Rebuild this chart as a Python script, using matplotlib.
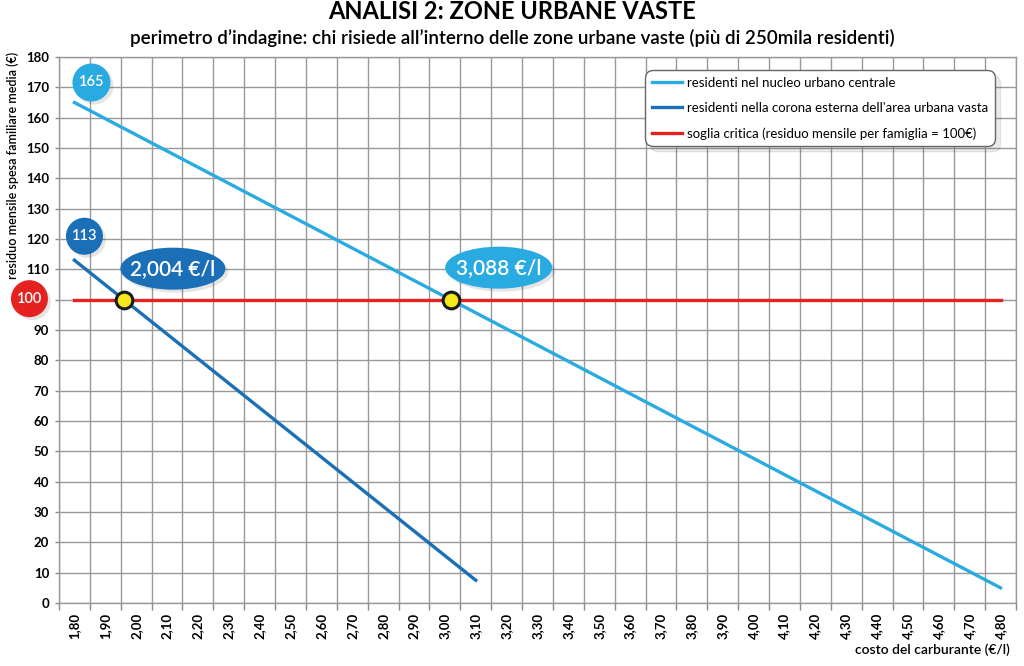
import numpy as np
import matplotlib
matplotlib.use("Agg")
import matplotlib.pyplot as plt
from matplotlib.patches import Ellipse
from matplotlib import transforms

# data
fuel_central = [1.80, 4.80]
residuo_central = [165, 5]
fuel_corona = [1.80, 3.10]
residuo_corona = [113, 7.5]
threshold_x = [1.80, 4.80]
threshold = 100
tick_prices = [round(1.80 + 0.1 * i, 2) for i in range(31)]
y_ticks = list(range(0, 190, 10))
breakeven_labels = ["2,004 €/l", "3,088 €/l"]

labels = ["residenti nel nucleo urbano centrale",
          "residenti nella corona esterna dell'area urbana vasta",
          "soglia critica (residuo mensile per famiglia = 100€)"]

LIGHT = "#29ABE2"
DARK = "#1B6FB6"
RED = "#E42320"

plt.rcParams['font.family'] = ['Lato', 'DejaVu Sans']

fig = plt.figure(figsize=(10.24, 6.66), dpi=100)
ax = fig.add_axes([59 / 1024, 1 - 603 / 666, 957 / 1024, 546 / 666])

ax.plot(fuel_central, residuo_central, color=LIGHT, lw=2.4, label=labels[0], zorder=3)
ax.plot(fuel_corona, residuo_corona, color=DARK, lw=2.4, label=labels[1], zorder=3)
ax.plot(threshold_x, [threshold] * len(threshold_x), color=RED, lw=2.4, label=labels[2], zorder=3)

ax.set_xlim(1.75, 4.85)
ax.set_ylim(0, 180)
ax.set_xticks(tick_prices)
ax.set_xticklabels([f"{p:.2f}".replace(".", ",") for p in tick_prices],
                   rotation=90, fontweight='bold', fontsize=9.5)
ax.set_xticks([1.75 + 0.1 * i for i in range(32)], minor=True)
ax.set_yticks(y_ticks)
ax.set_yticklabels(["" if v == threshold else str(v) for v in y_ticks],
                   fontweight='bold', fontsize=9.5)
ax.tick_params(axis='x', which='major', length=0, pad=7)
ax.tick_params(axis='x', which='minor', length=5, color='#888888', width=1)
ax.tick_params(axis='y', length=3, color='#888888', width=1, pad=4)
ax.grid(True, axis='x', which='minor', color='#999999', lw=1, zorder=0)
ax.grid(True, axis='y', which='major', color='#999999', lw=1, zorder=0)
for s in ax.spines.values():
    s.set_color('#999999')
    s.set_linewidth(1)
ax.set_axisbelow(True)

# break-even points: where each line crosses the threshold
cross_x = [np.interp(threshold, residuo_corona[::-1], fuel_corona[::-1]),
           np.interp(threshold, residuo_central[::-1], fuel_central[::-1])]
ax.plot(cross_x, [threshold] * 2, 'o', ms=12, mfc='#F7E81E', mec='#1a1a1a', mew=2.2, zorder=6)


def badge(x, y, dx, dy, w, h, color, text, fs):
    trans = fig.dpi_scale_trans + transforms.ScaledTranslation(x, y, ax.transData)
    sh = Ellipse((dx + 0.03, dy - 0.03), w, h, transform=trans, fc='#000000', alpha=0.1,
                 ec='none', zorder=7, clip_on=False)
    ax.add_patch(sh)
    e = Ellipse((dx, dy), w, h, transform=trans, fc=color, ec='none', zorder=8, clip_on=False)
    ax.add_patch(e)
    ax.text(dx, dy, text, transform=trans, ha='center', va='center', color='white',
            fontsize=fs, fontweight='semibold', zorder=9, clip_on=False)


badge(fuel_central[0], residuo_central[0], 0.17, 0.20, 0.38, 0.38, LIGHT, str(residuo_central[0]), 10.5)
badge(fuel_corona[0], residuo_corona[0], 0.10, 0.24, 0.37, 0.37, DARK, str(residuo_corona[0]), 10.5)
badge(threshold_x[0], threshold, -0.45, 0.01, 0.37, 0.37, RED, str(threshold), 10.5)
badge(cross_x[0], threshold, 0.49, 0.31, 1.05, 0.42, DARK, breakeven_labels[0], 15)
badge(cross_x[1], threshold, 0.48, 0.32, 1.07, 0.42, LIGHT, breakeven_labels[1], 15)

leg = ax.legend(loc='upper right', bbox_to_anchor=((995 - 59) / 957, (603 - 70) / 546),
                borderaxespad=0, fontsize=9.5, frameon=True, fancybox=True,
                shadow={'color': '#000000', 'alpha': 0.08, 'ox': 4, 'oy': -4},
                handlelength=2.3, handletextpad=0.4, labelspacing=1.0, borderpad=0.5)
frame = leg.get_frame()
frame.set_edgecolor('#666666')
frame.set_linewidth(1)
frame.set_alpha(1)
frame.set_boxstyle("round,pad=0,rounding_size=0.6")
leg.set_zorder(10)

fig.text(0.5, 0.982, "ANALISI 2: ZONE URBANE VASTE", ha='center', va='center',
         fontsize=17, fontweight='bold')
fig.text(0.5, 0.943, "perimetro d’indagine: chi risiede all’interno delle zone urbane vaste (più di 250mila residenti)",
         ha='center', va='center', fontsize=13.5, fontweight='semibold')
fig.text(0.012, 1 - 52 / 666, "residuo mensile spesa familiare media (€)", rotation=90,
         ha='center', va='top', fontsize=9, fontweight='semibold')
fig.text(1010 / 1024, 1 - 650 / 666, "costo del carburante (€/l)", ha='right', va='center',
         fontsize=10, fontweight='semibold')

fig.savefig("out.png", dpi=100)
